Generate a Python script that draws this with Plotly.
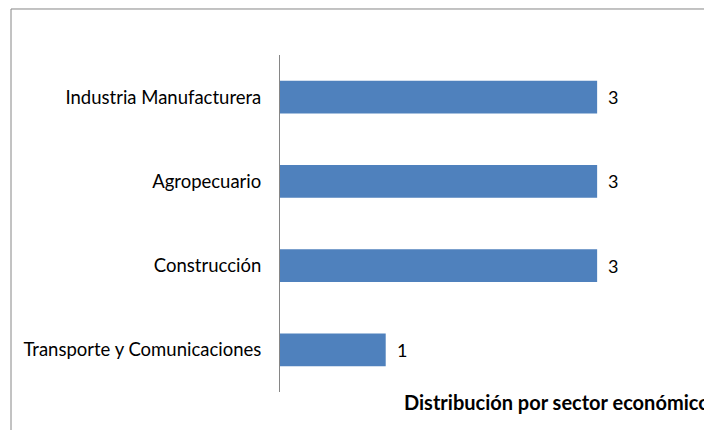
import plotly.graph_objects as go

# ── Data ──────────────────────────────────────────────────────────────────────
sectors = [
    "Transporte y Comunicaciones",
    "Construcción",
    "Agropecuario",
    "Industria Manufacturera",
]
counts = [1, 3, 3, 3]

TITLE = "Distribución por sector económico"
BAR_COLOR = "#4F81BD"
AXIS_GRAY = "#868686"
FONT = "Lato, 'Open Sans', sans-serif"

fig = go.Figure(go.Bar(
    x=counts, y=sectors,
    orientation="h",
    marker=dict(color=BAR_COLOR, line=dict(width=0)),
    hoverinfo="x+y",
))

# value labels just right of each bar
for s, c in zip(sectors, counts):
    fig.add_annotation(
        x=c, y=s, text=str(c), showarrow=False,
        xanchor="left", xshift=9,
        font=dict(family=FONT, size=18, color="#000000"),
    )

# chart title sitting bottom-right
fig.add_annotation(
    xref="paper", yref="paper", x=0.33, y=-0.03,
    xanchor="left", yanchor="middle",
    text=f"<b>{TITLE}</b>", showarrow=False,
    font=dict(family=FONT, size=20, color="#000000"),
)

# outer chart-area border: only top and left edges are in view
fig.add_shape(
    type="path", xref="paper", yref="paper",
    path="M 1.25,1.1365 L -0.727,1.1365 L -0.727,-0.2",
    line=dict(color=AXIS_GRAY, width=1), layer="below",
)

fig.update_layout(
    width=704, height=422,
    margin=dict(l=272, r=62, t=47, b=38),
    paper_bgcolor="white", plot_bgcolor="white",
    font=dict(family=FONT, size=18, color="#000000"),
    showlegend=False,
    bargap=0.614,
)
fig.update_xaxes(
    range=[0, 3.5], visible=False, showgrid=False, zeroline=False,
)
fig.update_yaxes(
    showline=True, linecolor=AXIS_GRAY, linewidth=1,
    showgrid=False, ticks="", ticklabelstandoff=14,
    tickfont=dict(family=FONT, size=18.5, color="#000000"),
)

# no scrollbars in the small window
fig.write_html(
    "out.html",
    post_script="document.documentElement.style.overflow='hidden';"
                "document.body.style.overflow='hidden';",
)
